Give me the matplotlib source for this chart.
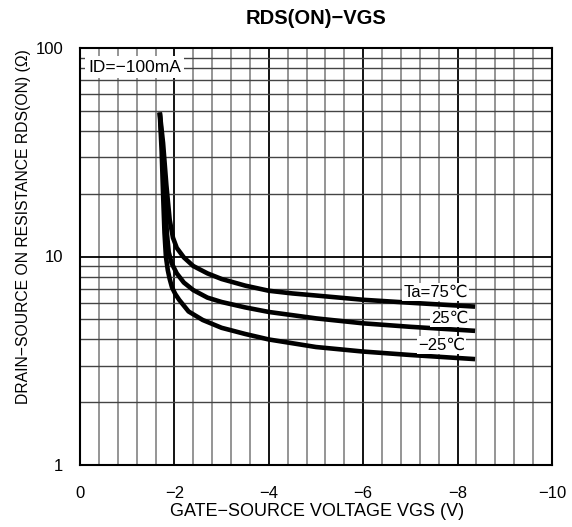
import numpy as np
import matplotlib
matplotlib.use('Agg')
import matplotlib.pyplot as plt
from matplotlib.ticker import FixedLocator, NullFormatter

plt.rcParams['font.family'] = ['Liberation Sans', 'DejaVu Sans']

# Values (VGS in V, RDS(on) in ohm)
vgs_75 = [-1.69, -1.76, -1.83, -1.90, -1.97, -2.05, -2.2, -2.4, -2.7, -3.0, -3.5, -4.0, -4.5, -5.0, -6.0, -7.0, -8.37]
rds_75 = [49, 35, 22, 15, 12.3, 11.0, 9.9, 9.0, 8.3, 7.8, 7.25, 6.85, 6.65, 6.5, 6.2, 6.0, 5.75]

vgs_25 = [-1.69, -1.75, -1.80, -1.84, -1.88, -1.94, -2.05, -2.2, -2.4, -2.7, -3.0, -3.5, -4.0, -5.0, -6.0, -7.0, -8.37]
rds_25 = [49, 32, 20, 13, 10.5, 9.3, 8.3, 7.5, 6.9, 6.35, 6.05, 5.7, 5.42, 5.05, 4.78, 4.6, 4.4]

vgs_m25 = [-1.69, -1.73, -1.76, -1.79, -1.82, -1.86, -1.90, -1.95, -2.02, -2.1, -2.3, -2.6, -3.0, -3.5, -4.0, -5.0, -6.0, -7.0, -8.37]
rds_m25 = [49, 32, 20, 13, 10.0, 8.6, 7.8, 7.1, 6.6, 6.2, 5.45, 4.96, 4.55, 4.25, 4.0, 3.68, 3.5, 3.37, 3.22]

curve_labels = ['Ta=75℃', '25℃', '−25℃']
x_ticks = [0, -2, -4, -6, -8, -10]
x_ticklabels = ['0', '−2', '−4', '−6', '−8', '−10']
y_ticks = [1, 10, 100]
y_ticklabels = ['1', '10', '100']

W, H = 572, 527
fig = plt.figure(figsize=(W / 100, H / 100), dpi=100)
ax = fig.add_axes([80 / W, 1 - 465 / H, 472 / W, 417 / H])

ax.set_yscale('log')
ax.set_xlim(0, -10)
ax.set_ylim(1, 100)

# grid
minor_x = [v for v in np.arange(0, -10.01, -0.4) if abs(v % 2) > 1e-6 and abs(v % 2 - 2) > 1e-6]
ax.xaxis.set_minor_locator(FixedLocator(minor_x))
ax.yaxis.set_minor_locator(FixedLocator([m * d for d in (1, 10) for m in range(2, 10)]))
ax.yaxis.set_minor_formatter(NullFormatter())
ax.grid(which='major', axis='both', color='black', linewidth=1.3)
ax.grid(which='minor', axis='x', color='#8c8c8c', linewidth=1.3)
ax.grid(which='minor', axis='y', color='#444444', linewidth=1.0)
ax.set_axisbelow(True)

ax.set_xticks(x_ticks)
ax.set_xticklabels(x_ticklabels)
ax.set_yticks(y_ticks)
ax.set_yticklabels(y_ticklabels)
ax.tick_params(which='both', length=0, labelsize=12)
ax.tick_params(axis='x', pad=15)
ax.tick_params(axis='y', pad=12)
for s in ax.spines.values():
    s.set_linewidth(1.5)

for v, r in [(vgs_75, rds_75), (vgs_25, rds_25), (vgs_m25, rds_m25)]:
    ax.plot(v, r, color='black', linewidth=3.3, solid_capstyle='butt', solid_joinstyle='round', zorder=3)

box = dict(facecolor='white', edgecolor='none', pad=0.8)
ax.text(-8.22, 6.76, curve_labels[0], ha='right', va='center', fontsize=12, bbox=box, zorder=4)
ax.text(-8.22, 5.07, curve_labels[1], ha='right', va='center', fontsize=12, bbox=box, zorder=4)
ax.text(-8.16, 3.76, curve_labels[2], ha='right', va='center', fontsize=12, bbox=box, zorder=4)

ax.text(-0.17, 81, 'ID=−100mA', ha='left', va='center', fontsize=12.5,
        bbox=dict(facecolor='white', edgecolor='none', pad=2.5), zorder=4)

fig.text(316 / W, 1 - 18 / H, 'RDS(ON)−VGS', ha='center', va='center', fontsize=14.5, fontweight='bold')
fig.text(317 / W, 1 - 512 / H, 'GATE−SOURCE VOLTAGE VGS (V)', ha='center', va='center', fontsize=13)
fig.text(24 / W, 1 - 227 / H, 'DRAIN−SOURCE ON RESISTANCE RDS(ON) (Ω)', ha='center', va='center',
         rotation=90, fontsize=11.3)

fig.savefig('out.png', dpi=100)
